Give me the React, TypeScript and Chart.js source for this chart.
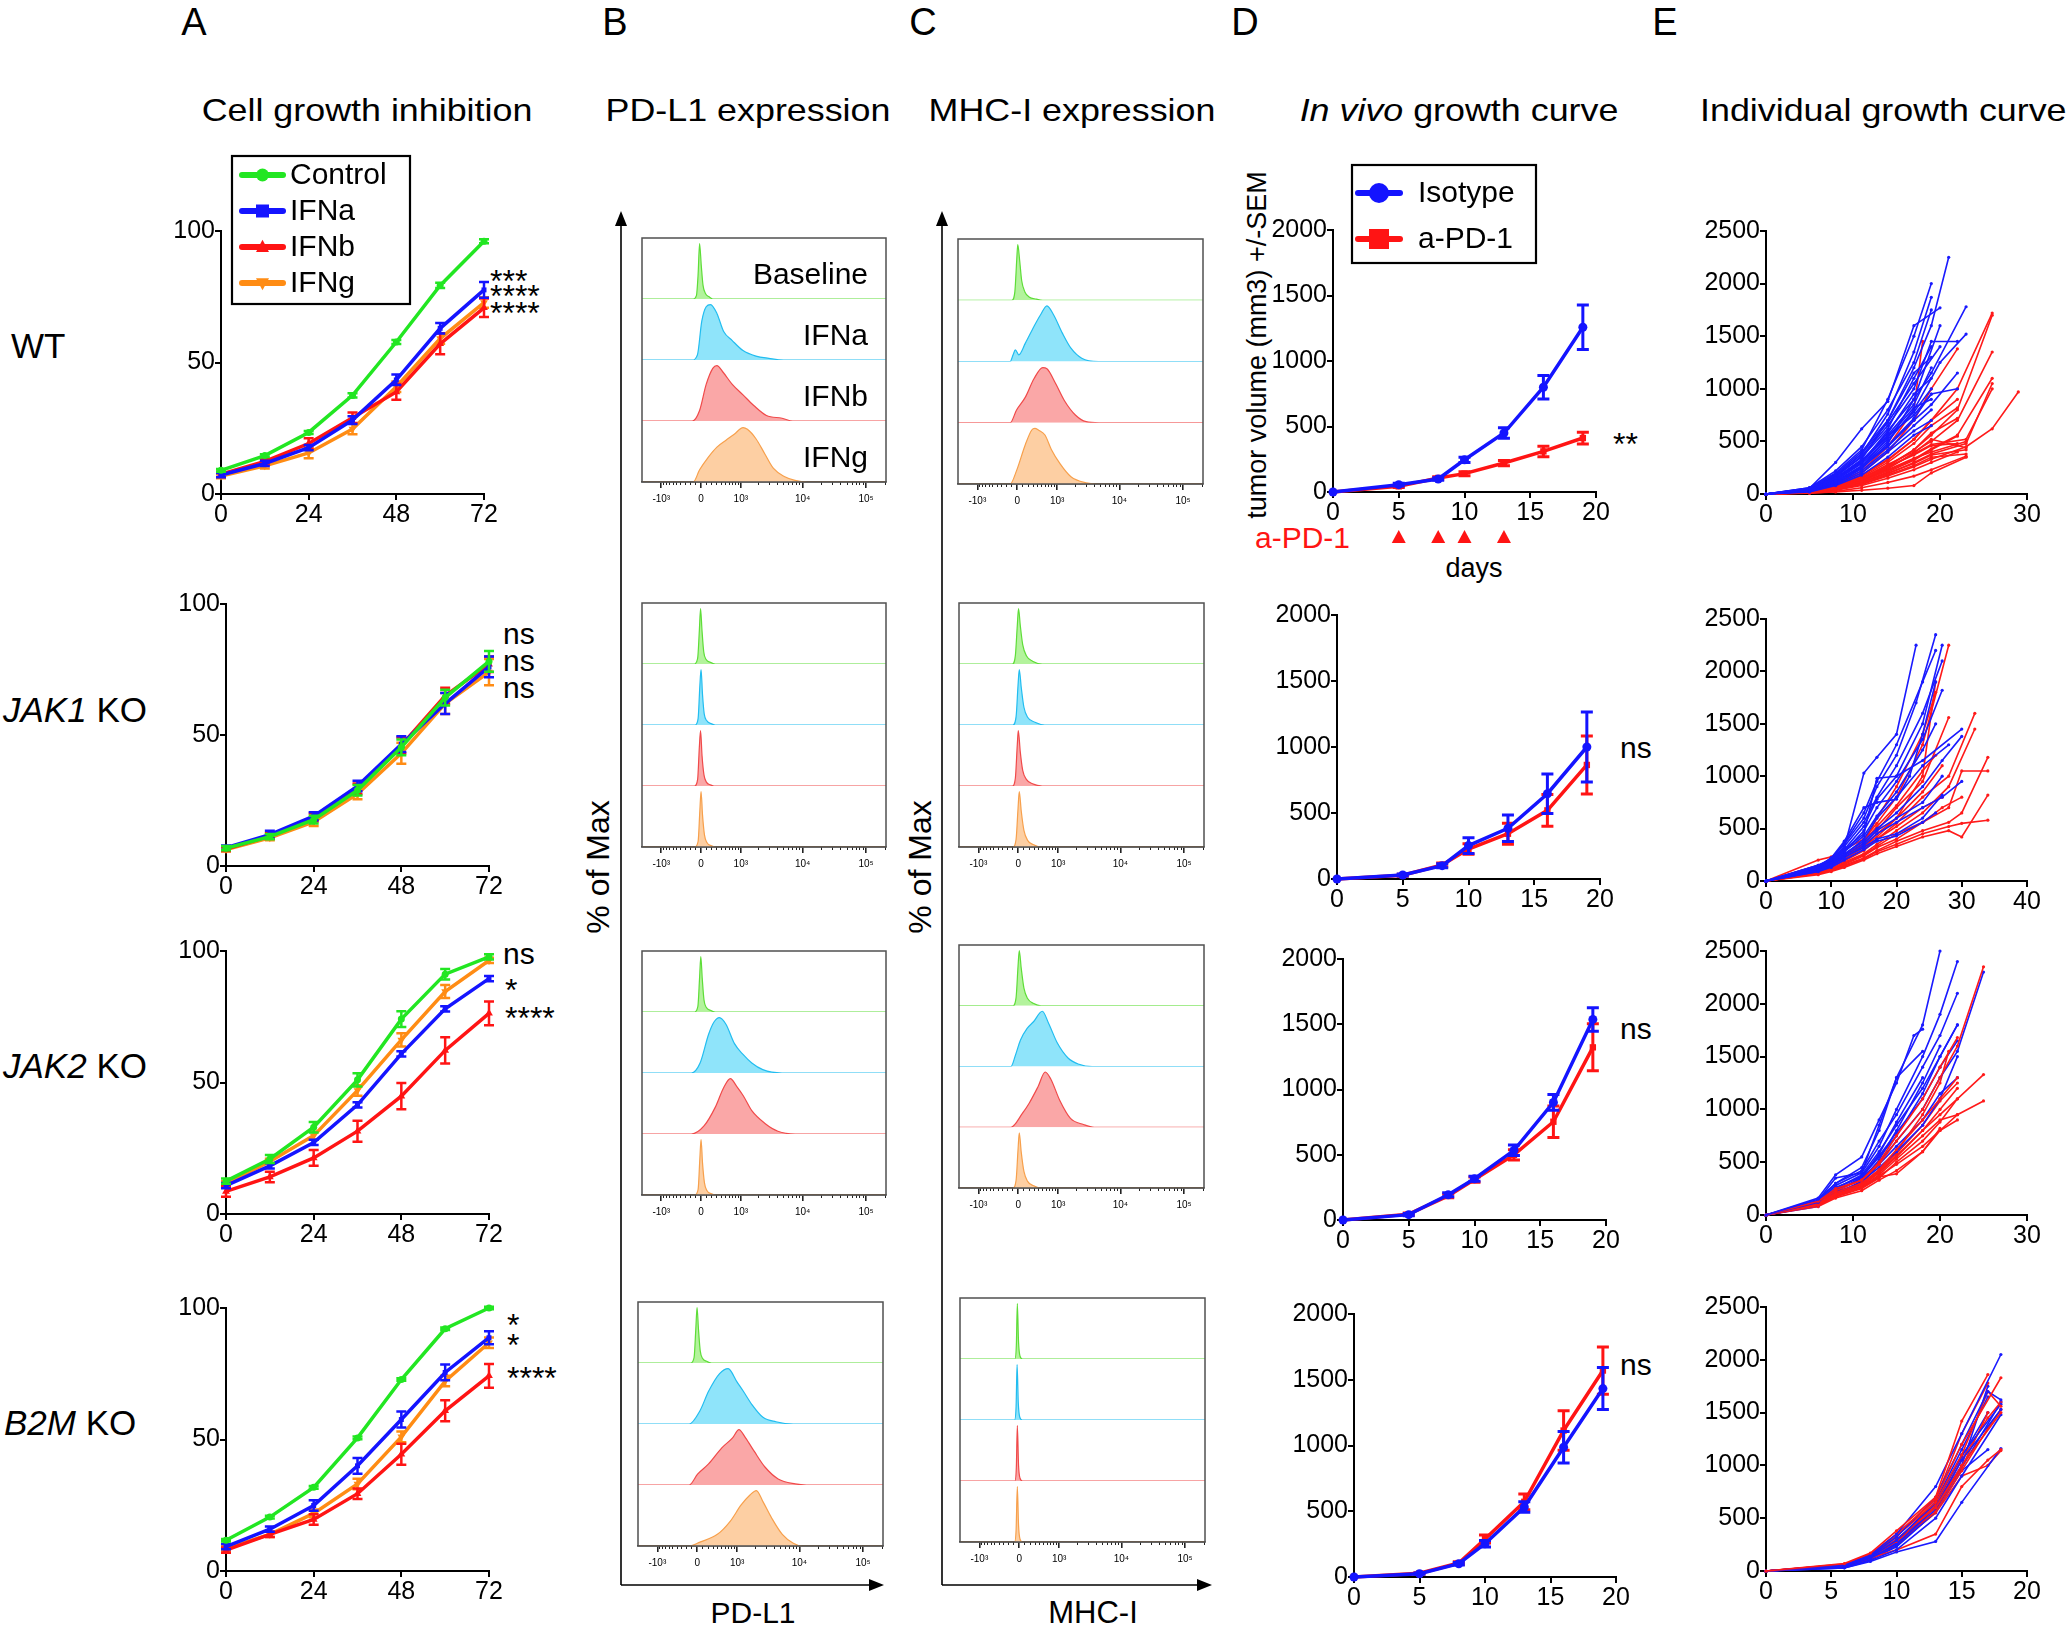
import React, { useEffect, useRef } from 'react';
import { Chart, registerables } from 'chart.js';

Chart.register(...registerables);

const FONT = '"Liberation Sans", Arial, Helvetica, sans-serif';
Chart.defaults.font.family = FONT;
Chart.defaults.color = '#000';

// ================= Panel A : cell growth inhibition =================
const HOURS = [0, 12, 24, 36, 48, 60, 72];
const HOUR_TICKS = [0, 24, 48, 72];
const PCT_TICKS = [0, 50, 100];
const A_LABELS = ['Control', 'IFNa', 'IFNb', 'IFNg'];

const WT_CONTROL = [9.0, 14.6, 23.4, 37.5, 57.8, 79.3, 96.1];
const WT_CONTROL_ERR = [0.5, 0.5, 0.6, 0.8, 0.8, 1.0, 0.8];
const WT_IFNA = [7.2, 11.6, 17.6, 28.1, 43.4, 63.0, 77.6];
const WT_IFNA_ERR = [0.8, 1.0, 1.0, 1.5, 2.0, 2.0, 3.0];
const WT_IFNB = [7.5, 12.4, 19.2, 29.0, 38.8, 57.1, 70.8];
const WT_IFNB_ERR = [1.0, 1.0, 2.0, 2.0, 3.0, 4.0, 3.5];
const WT_IFNG = [6.8, 10.7, 15.6, 24.7, 40.8, 59.1, 72.8];
const WT_IFNG_ERR = [0.8, 1.0, 2.0, 2.0, 2.0, 2.0, 2.0];

const JAK1_CONTROL = [6.8, 11.2, 17.7, 28.9, 45.3, 64.3, 78.1];
const JAK1_CONTROL_ERR = [0.8, 1.0, 1.5, 2.0, 3.0, 3.0, 4.0];
const JAK1_IFNA = [7.0, 12.0, 19.0, 30.5, 46.5, 62.0, 76.0];
const JAK1_IFNA_ERR = [0.8, 1.5, 1.5, 2.0, 3.0, 4.0, 4.0];
const JAK1_IFNB = [6.5, 11.5, 18.5, 29.5, 46.0, 65.0, 77.0];
const JAK1_IFNB_ERR = [0.8, 1.0, 1.5, 2.0, 3.0, 3.0, 3.0];
const JAK1_IFNG = [6.3, 10.8, 16.8, 27.5, 43.0, 62.0, 74.0];
const JAK1_IFNG_ERR = [0.8, 1.0, 1.5, 2.0, 4.0, 4.0, 5.0];

const JAK2_CONTROL = [12.5, 20.9, 33.0, 51.0, 74.1, 91.2, 97.8];
const JAK2_CONTROL_ERR = [1.0, 1.5, 2.0, 2.5, 3.0, 2.0, 1.0];
const JAK2_IFNA = [10.8, 18.3, 27.2, 41.5, 60.9, 78.0, 89.5];
const JAK2_IFNA_ERR = [1.0, 1.0, 1.0, 1.0, 1.0, 1.0, 1.0];
const JAK2_IFNB = [8.6, 14.1, 21.3, 31.5, 44.8, 62.2, 76.3];
const JAK2_IFNB_ERR = [2.0, 2.0, 3.0, 4.0, 5.0, 5.0, 4.5];
const JAK2_IFNG = [11.5, 20.0, 29.8, 47.0, 66.2, 84.6, 96.4];
const JAK2_IFNG_ERR = [1.0, 1.0, 1.5, 2.0, 2.5, 2.5, 1.0];

const B2M_CONTROL = [11.7, 20.5, 31.8, 50.6, 72.8, 92.1, 100.0];
const B2M_CONTROL_ERR = [0.5, 0.5, 0.5, 0.5, 0.5, 0.5, 0.5];
const B2M_IFNA = [9.3, 15.9, 24.9, 40.0, 57.6, 75.5, 88.7];
const B2M_IFNA_ERR = [1.0, 1.0, 2.0, 3.0, 3.0, 3.0, 2.5];
const B2M_IFNB = [7.9, 13.9, 19.6, 29.4, 44.4, 60.9, 74.2];
const B2M_IFNB_ERR = [1.0, 1.0, 2.0, 2.0, 4.0, 4.0, 4.5];
const B2M_IFNG = [8.6, 13.9, 21.9, 33.1, 51.0, 72.2, 86.8];
const B2M_IFNG_ERR = [1.0, 1.0, 1.5, 2.0, 2.0, 2.0, 2.0];

// ================= Panels B / C : flow histograms =================
// x = display channel (0-100 across the plot), y = % of max
const FLOW_LANES = ['Baseline', 'IFNa', 'IFNb', 'IFNg'];
const FLOW_TICK_VALUES = [-1000, 0, 1000, 10000, 100000];
const FLOW_TICK_LABELS = ['-10³', '0', '10³', '10⁴', '10⁵'];

const PDL1_WT = [
  [[0, 0], [21, 0], [22.3, 6], [23, 45], [23.6, 100], [24.3, 60], [25, 25], [26, 10], [27.5, 4], [29, 0], [100, 0]],
  [[0, 0], [20.6, 0], [22.7, 9], [24.5, 70], [26.3, 96], [28.1, 100], [30.7, 84], [33.4, 52], [37, 35], [41.4, 17], [46.7, 7], [52, 3], [58, 0], [100, 0]],
  [[0, 0], [20.6, 0], [23.6, 19], [26.3, 66], [29, 95], [30.7, 100], [33.4, 87], [37, 66], [41.4, 47], [45.8, 28], [51, 10], [57.4, 5], [61.8, 0], [100, 0]],
  [[0, 0], [21, 0], [23.6, 22], [27.2, 45], [30.7, 63], [34.3, 75], [37.8, 86], [41.4, 98], [43.2, 95], [46.7, 78], [50.3, 51], [53.8, 25], [58.3, 10], [62.7, 3], [67.7, 0], [100, 0]],
];
const MHC_WT = [
  [[0, 0], [22, 0], [23.2, 15], [24, 75], [24.4, 100], [25.2, 70], [26, 35], [27.3, 15], [29, 6], [32, 2], [34.6, 0], [100, 0]],
  [[0, 0], [21.3, 0], [22.5, 12], [23.4, 21], [24.8, 12], [27.5, 33], [31, 63], [33.7, 84], [36.3, 100], [39, 84], [42.6, 51], [46.1, 24], [50.5, 6], [57.3, 0], [100, 0]],
  [[0, 0], [21.3, 0], [23.9, 23], [27.5, 46], [31, 79], [34.6, 99], [36.3, 97], [39.9, 70], [43.4, 40], [47.9, 14], [52.3, 2], [57.6, 0], [100, 0]],
  [[0, 0], [21.3, 0], [23.9, 24], [27.5, 71], [30.1, 97], [31.4, 100], [32.8, 97], [35.5, 88], [38.1, 62], [41.7, 36], [46.1, 13], [52.3, 2], [56.7, 0], [100, 0]],
];
const PDL1_JAK1 = [
  [[0, 0], [21.5, 0], [22.8, 10], [23.5, 60], [24, 100], [24.6, 60], [25.3, 22], [26.3, 8], [28, 3], [30, 0], [100, 0]],
  [[0, 0], [21.8, 0], [23, 12], [23.7, 70], [24.2, 100], [24.8, 55], [25.5, 20], [26.5, 8], [28.5, 2], [30, 0], [100, 0]],
  [[0, 0], [21.5, 0], [22.8, 12], [23.5, 70], [24, 100], [24.6, 55], [25.4, 20], [26.4, 7], [28, 2], [29.5, 0], [100, 0]],
  [[0, 0], [21.7, 0], [23, 10], [23.7, 65], [24.2, 100], [24.8, 58], [25.6, 22], [26.6, 8], [28.5, 2], [30, 0], [100, 0]],
];
const MHC_JAK1 = [
  [[0, 0], [21.8, 0], [23, 15], [23.8, 70], [24.3, 100], [25, 70], [26, 35], [27.5, 15], [30, 5], [34, 0], [100, 0]],
  [[0, 0], [22, 0], [23.3, 15], [24.1, 72], [24.6, 100], [25.4, 68], [26.5, 32], [28, 14], [31, 5], [35, 0], [100, 0]],
  [[0, 0], [21.8, 0], [23, 14], [23.8, 75], [24.2, 100], [25, 62], [26, 28], [27.5, 12], [30, 4], [34, 0], [100, 0]],
  [[0, 0], [22, 0], [23.3, 14], [24.1, 70], [24.6, 100], [25.4, 65], [26.5, 30], [28, 12], [30.5, 4], [33, 0], [100, 0]],
];
const PDL1_JAK2 = [
  [[0, 0], [21.6, 0], [22.9, 10], [23.6, 62], [24.1, 100], [24.7, 60], [25.4, 22], [26.4, 8], [28, 3], [30, 0], [100, 0]],
  [[0, 0], [20.2, 0], [23.8, 18], [27.3, 70], [29.5, 92], [31.7, 100], [34.4, 88], [37.9, 53], [41.5, 33], [45, 18], [49.5, 6], [57.4, 0], [100, 0]],
  [[0, 0], [20.2, 0], [25.5, 15], [30, 48], [33.5, 84], [36.2, 100], [38.8, 86], [41.5, 69], [45, 42], [50.4, 19], [55.7, 5], [62.8, 0], [100, 0]],
  [[0, 0], [21.7, 0], [23, 10], [23.7, 65], [24.2, 100], [24.8, 58], [25.6, 22], [26.6, 8], [28.5, 2], [30, 0], [100, 0]],
];
const MHC_JAK2 = [
  [[0, 0], [22, 0], [23.3, 15], [24.1, 72], [24.6, 100], [25.4, 68], [26.5, 32], [28, 13], [30.5, 4], [33.5, 0], [100, 0]],
  [[0, 0], [21.2, 0], [23, 20], [25.1, 48], [27.8, 69], [30.4, 81], [34, 100], [36.6, 78], [40.2, 42], [44.6, 15], [49, 4], [54.3, 0], [100, 0]],
  [[0, 0], [21.2, 0], [26, 26], [28.7, 44], [32.2, 73], [35.2, 100], [37.5, 87], [41.1, 49], [45.5, 16], [50.8, 5], [55.2, 0], [100, 0]],
  [[0, 0], [22, 0], [23.3, 14], [24.1, 70], [24.6, 100], [25.4, 65], [26.5, 30], [28, 12], [30.5, 4], [33, 0], [100, 0]],
];
const PDL1_B2M = [
  [[0, 0], [21.6, 0], [22.9, 10], [23.6, 62], [24.1, 100], [24.7, 60], [25.4, 22], [26.4, 8], [28, 3], [30, 0], [100, 0]],
  [[0, 0], [20.9, 0], [25.3, 24], [28.8, 59], [33.3, 91], [36.8, 100], [40.4, 76], [43, 59], [46.5, 35], [51, 12], [56.3, 4], [63.4, 0], [100, 0]],
  [[0, 0], [20.9, 0], [24.4, 20], [28.8, 38], [34.2, 67], [38.6, 85], [41.2, 100], [43.9, 85], [47.4, 61], [51.9, 32], [57.2, 11], [64.2, 2], [68.7, 0], [100, 0]],
  [[0, 0], [20.9, 0], [25.3, 7], [32.4, 21], [37.7, 45], [42.1, 74], [45.7, 92], [48.3, 100], [51, 80], [54.5, 51], [58.9, 21], [63.4, 5], [66.9, 0], [100, 0]],
];
const MHC_B2M = [
  [[0, 0], [22.4, 0], [23, 25], [23.4, 100], [23.9, 30], [24.5, 5], [25.5, 0], [100, 0]],
  [[0, 0], [22.3, 0], [22.9, 25], [23.3, 100], [23.8, 30], [24.4, 5], [25.4, 0], [100, 0]],
  [[0, 0], [22.4, 0], [23, 25], [23.4, 100], [23.9, 28], [24.5, 5], [25.5, 0], [100, 0]],
  [[0, 0], [22.3, 0], [22.9, 22], [23.4, 100], [23.9, 30], [24.5, 5], [25.5, 0], [100, 0]],
];

// ================= Panel D : in vivo growth (mean +/- SEM) =================
const DAYS = [0, 5, 8, 10, 13, 16, 19];
const DAY_TICKS = [0, 5, 10, 15, 20];
const VOL_TICKS = [0, 500, 1000, 1500, 2000];
const D_LABELS = ['Isotype', 'a-PD-1'];
const DOSE_DAYS = [5, 8, 10, 13];

const WT_ISO = [0, 56, 99, 246, 450, 800, 1258];
const WT_ISO_ERR = [0, 10, 10, 20, 40, 90, 170];
const WT_PD1 = [0, 43, 107, 140, 221, 310, 412];
const WT_PD1_ERR = [0, 8, 10, 15, 20, 40, 45];
const JAK1_ISO = [0, 30, 101, 253, 384, 646, 1000];
const JAK1_ISO_ERR = [0, 8, 15, 60, 100, 150, 265];
const JAK1_PD1 = [0, 28, 107, 227, 343, 520, 864];
const JAK1_PD1_ERR = [0, 8, 15, 40, 80, 120, 220];
const JAK2_ISO = [0, 41, 193, 316, 534, 901, 1537];
const JAK2_ISO_ERR = [0, 8, 15, 20, 40, 60, 90];
const JAK2_PD1 = [0, 45, 185, 310, 499, 753, 1323];
const JAK2_PD1_ERR = [0, 8, 15, 20, 40, 120, 180];
const B2M_ISO = [0, 25, 101, 253, 532, 987, 1433];
const B2M_ISO_ERR = [0, 5, 10, 25, 40, 120, 160];
const B2M_PD1 = [0, 28, 106, 289, 572, 1114, 1570];
const B2M_PD1_ERR = [0, 5, 10, 30, 60, 150, 180];

// ================= Panel E : individual growth curves [day, mm3] =================
const E_VOL_TICKS = [0, 500, 1000, 1500, 2000, 2500];
const E1_ISO = [
  [[0, 0], [5, 60], [8, 200], [11, 420], [14, 900], [17, 1500], [19, 2000]],
  [[0, 0], [5, 50], [8, 180], [11, 380], [14, 760], [17, 1350], [19, 1870]],
  [[0, 0], [5, 40], [8, 150], [11, 330], [14, 700], [17, 1200], [19, 1600], [21, 2250]],
  [[0, 0], [5, 55], [8, 300], [11, 620], [14, 880], [17, 1600], [20, 1770]],
  [[0, 0], [5, 45], [8, 160], [11, 360], [14, 650], [17, 1000], [19, 1450], [22, 1450]],
  [[0, 0], [5, 35], [8, 130], [11, 300], [14, 600], [17, 900], [19, 1150], [23, 1780]],
  [[0, 0], [5, 30], [8, 120], [11, 260], [14, 500], [17, 800], [20, 1250], [23, 1520]],
  [[0, 0], [5, 40], [8, 140], [11, 300], [14, 550], [17, 750], [19, 950], [22, 1000]],
  [[0, 0], [5, 35], [8, 110], [11, 250], [14, 450], [17, 700], [19, 850], [22, 1150]],
  [[0, 0], [5, 50], [8, 170], [11, 350], [14, 620], [17, 1100], [19, 1400]],
  [[0, 0], [5, 30], [8, 100], [11, 220], [14, 420], [17, 650], [19, 800]],
  [[0, 0], [5, 45], [8, 150], [11, 320], [14, 560], [17, 850], [19, 1200]],
  [[0, 0], [5, 25], [8, 90], [11, 200], [14, 400], [17, 600], [19, 700]],
  [[0, 0], [5, 40], [8, 130], [11, 290], [14, 520], [17, 780], [19, 1000]],
  [[0, 0], [5, 30], [8, 100], [11, 240], [14, 480], [17, 900], [20, 1600]],
  [[0, 0], [5, 50], [8, 190], [11, 400], [14, 700], [17, 1150], [19, 1300]],
  [[0, 0], [5, 20], [8, 80], [11, 180], [14, 350], [17, 560], [19, 650]],
  [[0, 0], [5, 35], [8, 120], [11, 270], [14, 460], [17, 720], [19, 950]],
  [[0, 0], [5, 60], [8, 220], [11, 450], [14, 800], [17, 1250], [19, 1750]],
  [[0, 0], [5, 40], [8, 150], [11, 310], [14, 580], [17, 950], [19, 1100]],
  [[0, 0], [5, 45], [8, 170], [11, 380], [14, 680], [17, 1050], [20, 1400]],
  [[0, 0], [5, 30], [8, 110], [11, 260], [14, 540], [17, 820], [19, 900]],
];
const E1_PD1 = [
  [[0, 0], [5, 30], [8, 90], [11, 200], [14, 400], [17, 700], [19, 1000], [22, 1380]],
  [[0, 0], [5, 25], [8, 80], [11, 180], [14, 330], [17, 520], [19, 700], [22, 1000], [26, 1720]],
  [[0, 0], [5, 20], [8, 60], [11, 140], [14, 260], [17, 420], [19, 560], [22, 800], [26, 1700]],
  [[0, 0], [5, 20], [8, 70], [11, 150], [14, 280], [17, 400], [19, 500], [22, 700], [26, 1350]],
  [[0, 0], [5, 15], [8, 50], [11, 120], [14, 220], [17, 330], [19, 430], [22, 560], [26, 1100]],
  [[0, 0], [5, 15], [8, 45], [11, 100], [14, 190], [17, 300], [19, 380], [23, 480], [26, 1050]],
  [[0, 0], [5, 12], [8, 40], [11, 90], [14, 170], [17, 260], [19, 330], [23, 450], [26, 620], [29, 970]],
  [[0, 0], [5, 18], [8, 55], [11, 130], [14, 250], [17, 380], [19, 470], [23, 520], [26, 1000]],
  [[0, 0], [5, 10], [8, 20], [11, 35], [14, 55], [17, 80], [19, 200], [23, 350]],
  [[0, 0], [5, 15], [8, 45], [11, 110], [14, 200], [17, 290], [19, 370], [23, 420]],
  [[0, 0], [5, 20], [8, 60], [11, 130], [14, 230], [17, 340], [19, 400], [23, 500]],
  [[0, 0], [5, 25], [8, 90], [11, 220], [14, 450], [17, 800], [18, 1450]],
  [[0, 0], [5, 20], [8, 70], [11, 160], [14, 300], [17, 480], [19, 650], [22, 820]],
  [[0, 0], [5, 15], [8, 50], [11, 110], [14, 210], [17, 320], [19, 420], [22, 550]],
  [[0, 0], [5, 10], [8, 35], [11, 80], [14, 150], [17, 230], [19, 300], [22, 400]],
  [[0, 0], [5, 18], [8, 60], [11, 140], [14, 270], [17, 420], [19, 580], [22, 720]],
  [[0, 0], [5, 22], [8, 75], [11, 170], [14, 320], [17, 520], [19, 700], [22, 900]],
  [[0, 0], [5, 12], [8, 40], [11, 95], [14, 180], [17, 270], [19, 350], [23, 380]],
  [[0, 0], [5, 20], [8, 65], [11, 150], [14, 260], [17, 370], [19, 460], [22, 480]],
  [[0, 0], [5, 8], [8, 25], [11, 60], [14, 110], [17, 170], [19, 230], [23, 360]],
  [[0, 0], [5, 18], [8, 55], [11, 120], [14, 240], [17, 390], [19, 520], [23, 440]],
];
const E2_ISO = [
  [[0, 0], [8, 150], [10, 200], [12, 320], [15, 1030], [17, 1180], [20, 1400], [23, 2250]],
  [[0, 0], [8, 130], [10, 220], [12, 350], [15, 600], [17, 900], [20, 1200], [23, 1700], [26, 2350]],
  [[0, 0], [8, 120], [10, 180], [12, 300], [15, 520], [17, 780], [20, 1000], [24, 1500], [27, 2250]],
  [[0, 0], [8, 140], [10, 200], [12, 330], [15, 560], [17, 800], [20, 1100], [24, 1600], [27, 2100]],
  [[0, 0], [8, 110], [10, 170], [12, 280], [15, 480], [17, 700], [20, 950], [24, 1350], [27, 1820]],
  [[0, 0], [8, 130], [10, 190], [12, 300], [15, 450], [17, 980], [20, 1000], [24, 1150], [30, 1450]],
  [[0, 0], [8, 100], [10, 150], [12, 250], [15, 400], [17, 600], [20, 800], [24, 1100], [28, 1300]],
  [[0, 0], [8, 120], [10, 170], [12, 260], [15, 380], [17, 500], [20, 650], [24, 900], [27, 1150], [30, 1380]],
  [[0, 0], [8, 90], [10, 140], [12, 220], [15, 340], [17, 450], [20, 560], [24, 700], [27, 800], [30, 950]],
  [[0, 0], [8, 150], [10, 210], [12, 360], [15, 650], [17, 950], [20, 1300], [24, 1900], [26, 2200]],
  [[0, 0], [8, 110], [10, 160], [12, 240], [15, 360], [17, 480], [20, 600], [24, 750], [27, 1000]],
  [[0, 0], [8, 100], [10, 150], [12, 230], [15, 320], [17, 400], [20, 450], [24, 600], [27, 820]],
  [[0, 0], [8, 130], [10, 180], [12, 280], [15, 430], [17, 620], [20, 850], [24, 1250], [26, 1500]],
  [[0, 0], [8, 90], [10, 130], [12, 200], [15, 300], [17, 380], [20, 430], [24, 560], [26, 650]],
  [[0, 0], [8, 140], [10, 220], [12, 380], [15, 700], [17, 750], [20, 780], [22, 1000], [24, 1400], [26, 1900]],
];
const E2_PD1 = [
  [[0, 0], [8, 200], [10, 230], [12, 300], [15, 400], [17, 550], [20, 800], [24, 1300], [28, 2250]],
  [[0, 0], [8, 150], [10, 180], [12, 250], [15, 330], [17, 420], [20, 600], [24, 1000], [26, 1900]],
  [[0, 0], [8, 100], [10, 140], [12, 200], [15, 300], [17, 400], [20, 550], [24, 800], [28, 1000], [32, 1600]],
  [[0, 0], [8, 90], [10, 120], [12, 180], [15, 260], [17, 350], [20, 480], [24, 650], [28, 900], [32, 1450]],
  [[0, 0], [8, 80], [10, 110], [12, 170], [15, 250], [17, 330], [20, 450], [24, 560], [28, 700], [30, 1050], [34, 1050]],
  [[0, 0], [8, 70], [10, 100], [12, 150], [15, 220], [17, 290], [20, 380], [24, 480], [28, 560], [30, 650], [34, 1180]],
  [[0, 0], [8, 60], [10, 90], [12, 130], [15, 200], [17, 260], [20, 330], [24, 420], [28, 480], [30, 420], [34, 820]],
  [[0, 0], [8, 70], [10, 95], [12, 140], [15, 210], [17, 280], [20, 350], [24, 450], [28, 520], [30, 550], [34, 580]],
  [[0, 0], [8, 110], [10, 150], [12, 220], [15, 350], [17, 480], [20, 700], [24, 950], [28, 1560]],
  [[0, 0], [8, 130], [10, 170], [12, 250], [15, 380], [17, 520], [20, 720], [24, 1050], [26, 1200]],
  [[0, 0], [8, 90], [10, 130], [12, 190], [15, 290], [17, 400], [20, 520], [24, 700], [27, 800]],
  [[0, 0], [8, 120], [10, 160], [12, 240], [15, 360], [17, 600], [20, 900], [24, 1400], [26, 1800]],
  [[0, 0], [8, 80], [10, 110], [12, 160], [15, 240], [17, 320], [20, 400], [24, 560], [27, 700], [30, 800]],
  [[0, 0], [8, 100], [10, 140], [12, 210], [15, 320], [17, 450], [20, 600], [24, 850], [27, 1100]],
];
const E3_ISO = [
  [[0, 0], [6, 150], [8, 300], [11, 450], [13, 800], [15, 1300], [18, 1800], [20, 2500]],
  [[0, 0], [6, 120], [8, 280], [11, 400], [13, 650], [15, 1000], [18, 1500], [20, 1900], [22, 2400]],
  [[0, 0], [6, 130], [8, 300], [11, 420], [13, 700], [15, 950], [18, 1400], [20, 1700], [22, 2100]],
  [[0, 0], [6, 160], [8, 380], [11, 550], [13, 900], [15, 1250], [17, 1700], [18, 1760]],
  [[0, 0], [6, 140], [8, 350], [11, 400], [13, 850], [15, 1300], [18, 1550]],
  [[0, 0], [6, 100], [8, 250], [11, 380], [13, 600], [15, 850], [18, 1200], [20, 1500], [22, 1800]],
  [[0, 0], [6, 90], [8, 220], [11, 350], [13, 500], [15, 700], [18, 1000], [20, 1300], [22, 1550], [25, 2300]],
  [[0, 0], [6, 110], [8, 260], [11, 360], [13, 550], [15, 750], [18, 1150], [20, 1500], [22, 1800]],
  [[0, 0], [6, 80], [8, 200], [11, 320], [13, 450], [15, 600], [18, 850], [20, 1100], [22, 1500]],
  [[0, 0], [6, 120], [8, 240], [11, 330], [13, 520], [15, 800], [18, 1250], [20, 1600]],
  [[0, 0], [6, 100], [8, 210], [11, 300], [13, 480], [15, 650], [18, 900], [20, 1150], [22, 1300]],
  [[0, 0], [6, 90], [8, 230], [11, 350], [13, 580], [15, 880], [18, 1300]],
  [[0, 0], [6, 110], [8, 250], [11, 370], [13, 560], [15, 780], [18, 1100], [20, 1400], [22, 1650]],
];
const E3_PD1 = [
  [[0, 0], [6, 130], [8, 250], [11, 330], [13, 480], [15, 700], [18, 1000], [20, 1300], [22, 1600], [25, 2350]],
  [[0, 0], [6, 100], [8, 200], [11, 280], [13, 400], [15, 550], [18, 800], [20, 950], [22, 1100], [25, 1330]],
  [[0, 0], [6, 90], [8, 180], [11, 260], [13, 370], [15, 480], [18, 650], [20, 800], [22, 950], [25, 1080]],
  [[0, 0], [6, 120], [8, 230], [11, 330], [13, 500], [15, 750], [18, 1100], [20, 1400], [22, 1680]],
  [[0, 0], [6, 110], [8, 210], [11, 300], [13, 430], [15, 620], [18, 900], [20, 1100], [22, 1300]],
  [[0, 0], [6, 100], [8, 190], [11, 280], [13, 400], [15, 560], [18, 800], [20, 1000], [22, 1200]],
  [[0, 0], [6, 90], [8, 170], [11, 250], [13, 350], [15, 500], [18, 700], [20, 880], [22, 1100]],
  [[0, 0], [6, 80], [8, 160], [11, 230], [13, 330], [15, 420], [18, 600], [20, 800], [22, 900]],
  [[0, 0], [6, 120], [8, 220], [11, 300], [13, 420], [15, 600], [18, 950], [20, 1250], [21, 1550]],
  [[0, 0], [6, 100], [8, 200], [11, 270], [13, 380], [15, 530], [18, 750], [20, 900], [22, 950]],
  [[0, 0], [6, 110], [8, 200], [11, 290], [13, 410], [15, 580], [18, 850], [20, 1080], [22, 1250]],
  [[0, 0], [6, 90], [8, 180], [11, 260], [13, 360], [15, 390], [18, 600], [20, 820]],
];
const E4_ISO = [
  [[0, 0], [6, 60], [8, 150], [10, 350], [13, 800], [15, 1300], [18, 2050]],
  [[0, 0], [6, 50], [8, 140], [10, 320], [13, 700], [15, 1200], [17, 1700], [18, 1620]],
  [[0, 0], [6, 55], [8, 130], [10, 290], [13, 650], [15, 1100], [18, 1580]],
  [[0, 0], [6, 40], [8, 120], [10, 250], [13, 600], [15, 1050], [18, 1530]],
  [[0, 0], [6, 30], [8, 100], [10, 200], [13, 500], [15, 900], [18, 1480]],
  [[0, 0], [6, 35], [8, 110], [10, 230], [13, 560], [15, 950], [17, 1150]],
  [[0, 0], [6, 30], [8, 90], [10, 180], [13, 280], [15, 650], [18, 1160]],
  [[0, 0], [6, 45], [8, 120], [10, 260], [13, 620], [15, 1000], [17, 1750]],
  [[0, 0], [6, 50], [8, 130], [10, 280], [13, 660], [15, 1150], [17, 1650]],
  [[0, 0], [6, 40], [8, 110], [10, 240], [13, 580], [15, 980], [18, 1600]],
  [[0, 0], [6, 45], [8, 125], [10, 270], [13, 640], [15, 1080], [17, 1500]],
];
const E4_PD1 = [
  [[0, 0], [6, 70], [8, 170], [10, 380], [13, 700], [15, 1420], [17, 1860]],
  [[0, 0], [6, 65], [8, 160], [10, 350], [13, 680], [15, 1200], [18, 1830]],
  [[0, 0], [6, 60], [8, 150], [10, 330], [13, 650], [15, 1100], [17, 1700], [18, 1560]],
  [[0, 0], [6, 55], [8, 140], [10, 300], [13, 600], [15, 1000], [18, 1500]],
  [[0, 0], [6, 50], [8, 130], [10, 280], [13, 560], [15, 950], [17, 1350], [18, 1530]],
  [[0, 0], [6, 45], [8, 120], [10, 200], [13, 350], [15, 800], [17, 1050], [18, 1150]],
  [[0, 0], [6, 60], [8, 160], [10, 330], [13, 680], [15, 1300], [17, 1780]],
  [[0, 0], [6, 55], [8, 140], [10, 290], [13, 620], [15, 1050], [17, 1450], [18, 1600]],
  [[0, 0], [6, 50], [8, 135], [10, 300], [13, 600], [15, 980], [17, 1500]],
  [[0, 0], [6, 40], [8, 110], [10, 250], [13, 550], [15, 900], [17, 1000], [18, 1140]],
];

// ================= styles =================
const A_COLORS = ['#22e622', '#1414ff', '#ff1414', '#ff8c14'];
const A_MARKERS = ['circle', 'rect', 'triangle', 'triangle'];
const A_ROT = [0, 0, 0, 180];
const A_RADII = [3.5, 3.5, 4.5, 4.5];
const D_COLORS = ['#1414ff', '#ff1414'];
const D_MARKERS = ['circle', 'rect'];
const E_BLUE = '#1a1aff';
const E_RED = '#ff1a1a';
const HIST_LINE = ['#5edd38', '#22bdf0', '#f04a4a', '#f7a04c'];
const HIST_FILL = ['#b3f39c', '#8fe4fa', '#faa7a7', '#fdcfa3'];

// axis geometry helper for the biexponential flow axis (display channel of a value)
const flowChannel = (v: number) => 24.2 + (26 * Math.asinh(v / 500)) / Math.LN10;
const FLOW_MINOR_VALUES: number[] = (() => {
  const out: number[] = [];
  for (let k = 1; k <= 9; k++) out.push(-100 * k, 100 * k);
  for (let k = 2; k <= 9; k++) out.push(1000 * k, 10000 * k);
  out.push(200000);
  return out;
})();

// ================= plugins =================
function drawMarker(ctx: CanvasRenderingContext2D, style: string, x: number, y: number, r: number, rot = 0) {
  ctx.beginPath();
  if (style === 'rect') ctx.rect(x - r, y - r, 2 * r, 2 * r);
  else if (style === 'triangle') {
    const s = rot === 180 ? -1 : 1;
    ctx.moveTo(x, y - s * r * 1.1);
    ctx.lineTo(x + r, y + s * r * 0.75);
    ctx.lineTo(x - r, y + s * r * 0.75);
    ctx.closePath();
  } else ctx.arc(x, y, r, 0, Math.PI * 2);
  ctx.fill();
}

const errorBarsPlugin = {
  id: 'errorBars',
  afterDatasetDraw(chart: any, args: any) {
    const ds = chart.data.datasets[args.index];
    if (!ds || !ds.errors) return;
    const meta = args.meta;
    const yScale = chart.scales[meta.yAxisID];
    const ctx = chart.ctx;
    ctx.save();
    ctx.strokeStyle = ds.borderColor;
    ctx.lineWidth = ds.errWidth || 2.5;
    meta.data.forEach((pt: any, i: number) => {
      const e = ds.errors[i];
      if (!e) return;
      const v = ds.data[i].y;
      const y1 = yScale.getPixelForValue(v + e);
      const y2 = yScale.getPixelForValue(v - e);
      const c = ds.errCap || 5;
      ctx.beginPath();
      ctx.moveTo(pt.x, y1); ctx.lineTo(pt.x, y2);
      ctx.moveTo(pt.x - c, y1); ctx.lineTo(pt.x + c, y1);
      ctx.moveTo(pt.x - c, y2); ctx.lineTo(pt.x + c, y2);
      ctx.stroke();
    });
    ctx.restore();
  },
};

const boxLegendPlugin = {
  id: 'boxLegend',
  afterDraw(chart: any, _args: any, o: any) {
    if (!o || !o.show) return;
    const a = chart.chartArea;
    const ctx = chart.ctx;
    const x0 = a.left + o.x;
    const y0 = a.top + o.y;
    ctx.save();
    ctx.lineWidth = 2.2;
    ctx.strokeStyle = '#000';
    ctx.strokeRect(x0, y0, o.w, o.h);
    ctx.font = `${o.fontSize}px ${FONT}`;
    ctx.textBaseline = 'middle';
    ctx.textAlign = 'left';
    chart.data.datasets.forEach((ds: any, i: number) => {
      const cy = y0 + o.firstRow + i * o.rowH;
      ctx.strokeStyle = ds.borderColor;
      ctx.fillStyle = ds.borderColor;
      ctx.lineWidth = o.lineWidth;
      ctx.lineCap = 'round';
      ctx.beginPath();
      ctx.moveTo(x0 + o.lineX, cy);
      ctx.lineTo(x0 + o.lineX + o.lineLen, cy);
      ctx.stroke();
      drawMarker(ctx, ds.pointStyle, x0 + o.lineX + o.lineLen / 2, cy, o.markerR, ds.pointRotation || 0);
      ctx.fillStyle = '#000';
      ctx.fillText(ds.label, x0 + o.textX, cy + 1);
    });
    ctx.restore();
  },
};

const doseMarksPlugin = {
  id: 'doseMarks',
  afterDraw(chart: any, _args: any, o: any) {
    if (!o || !o.days) return;
    const xs = chart.scales.x;
    const ctx = chart.ctx;
    const cy = chart.chartArea.bottom + o.offset;
    ctx.save();
    ctx.fillStyle = o.color;
    o.days.forEach((d: number) => {
      const x = xs.getPixelForValue(d);
      ctx.beginPath();
      ctx.moveTo(x, cy - 7);
      ctx.lineTo(x + 7, cy + 6);
      ctx.lineTo(x - 7, cy + 6);
      ctx.closePath();
      ctx.fill();
    });
    ctx.restore();
  },
};

const laneLabelsPlugin = {
  id: 'laneLabels',
  afterDatasetsDraw(chart: any, _args: any, o: any) {
    if (!o || !o.labels) return;
    const ctx = chart.ctx;
    ctx.save();
    ctx.font = `${o.fontSize}px ${FONT}`;
    ctx.fillStyle = '#000';
    ctx.textAlign = 'right';
    ctx.textBaseline = 'middle';
    chart.data.datasets.forEach((ds: any, i: number) => {
      const ys = chart.scales[ds.yAxisID];
      ctx.fillText(o.labels[i], chart.chartArea.right - o.inset, ys.getPixelForValue(o.value));
    });
    ctx.restore();
  },
};

const framePlugin = {
  id: 'frame',
  afterDraw(chart: any, _args: any, o: any) {
    if (!o || !o.show) return;
    const a = chart.chartArea;
    const ctx = chart.ctx;
    ctx.save();
    ctx.strokeStyle = '#505050';
    ctx.lineWidth = 1.5;
    ctx.strokeRect(a.left, a.top, a.right - a.left, a.bottom - a.top);
    ctx.restore();
  },
};

Chart.register(errorBarsPlugin, boxLegendPlugin, doseMarksPlugin, laneLabelsPlugin, framePlugin);

// ================= chart builders =================
type Pad = { l: number; t: number; r: number; b: number };
type Area = { left: number; top: number; right: number; bottom: number };

const BASE_OPTIONS = { responsive: false, animation: false, devicePixelRatio: 1, events: [] as string[] };

function cartesianAxis(ticks: number[], min: number, max: number, size: number) {
  return {
    type: 'linear',
    min,
    max,
    afterBuildTicks: (s: any) => { s.ticks = ticks.map((v) => ({ value: v })); },
    grid: { display: true, drawOnChartArea: false, drawTicks: true, tickLength: 6, color: '#000', lineWidth: 2 },
    border: { display: true, color: '#000', width: 2 },
    ticks: { autoSkip: false, maxRotation: 0, color: '#000', font: { family: FONT, size }, padding: 0, callback: (v: any) => String(v) },
  };
}

function lineConfig(o: { datasets: any[]; x: [number, number, number[]]; y: [number, number, number[]]; pad: Pad; plugins?: any; fontSize?: number }) {
  const fs = o.fontSize || 25;
  return {
    type: 'line',
    data: { datasets: o.datasets },
    options: {
      ...BASE_OPTIONS,
      layout: { padding: { left: 0, top: o.pad.t, right: o.pad.r, bottom: 0 } },
      scales: {
        x: { ...cartesianAxis(o.x[2], o.x[0], o.x[1], fs), position: 'bottom', afterFit: (s: any) => { s.height = o.pad.b; } },
        y: { ...cartesianAxis(o.y[2], o.y[0], o.y[1], fs), position: 'left', afterFit: (s: any) => { s.width = o.pad.l; } },
      },
      plugins: { legend: { display: false }, tooltip: { enabled: false }, ...(o.plugins || {}) },
    },
  };
}

function growthConfig(sets: number[][][], pad: Pad, legend?: any) {
  const datasets = sets.map(([vals, errs], i) => ({
    label: A_LABELS[i],
    data: HOURS.map((h, j) => ({ x: h, y: vals[j] })),
    errors: errs,
    errWidth: 2.5,
    errCap: 5,
    borderColor: A_COLORS[i],
    backgroundColor: A_COLORS[i],
    borderWidth: 3.5,
    pointStyle: A_MARKERS[i],
    pointRotation: A_ROT[i],
    pointRadius: A_RADII[i],
    pointBackgroundColor: A_COLORS[i],
    pointBorderColor: A_COLORS[i],
    pointBorderWidth: 0,
    tension: 0,
    clip: false,
  }));
  return lineConfig({ datasets, x: [0, 72, HOUR_TICKS], y: [0, 100, PCT_TICKS], pad, plugins: legend ? { boxLegend: legend } : {} });
}

function tumorConfig(iso: number[], isoErr: number[], pd1: number[], pd1Err: number[], pad: Pad, extra?: any) {
  const datasets = [
    [iso, isoErr],
    [pd1, pd1Err],
  ].map(([vals, errs], i) => ({
    label: D_LABELS[i],
    data: DAYS.map((d, j) => ({ x: d, y: vals[j] })),
    errors: errs,
    errWidth: 3,
    errCap: 6,
    borderColor: D_COLORS[i],
    backgroundColor: D_COLORS[i],
    borderWidth: 3.5,
    pointStyle: D_MARKERS[i],
    pointRadius: 4.5,
    pointBackgroundColor: D_COLORS[i],
    pointBorderColor: D_COLORS[i],
    pointBorderWidth: 0,
    tension: 0,
    clip: false,
  }));
  return lineConfig({ datasets, x: [0, 20, DAY_TICKS], y: [0, 2000, VOL_TICKS], pad, plugins: extra || {} });
}

function curveDataset(curve: number[][], color: string) {
  return {
    data: curve.map(([x, y]) => ({ x, y })),
    borderColor: color,
    backgroundColor: color,
    borderWidth: 1.6,
    pointRadius: 1.6,
    pointBorderWidth: 0,
    pointBackgroundColor: color,
    tension: 0,
    clip: false,
  };
}

function spaghettiConfig(first: number[][][], firstColor: string, second: number[][][], secondColor: string, xMax: number, xTicks: number[], pad: Pad, interleave = false) {
  let datasets: any[];
  if (interleave) {
    datasets = [];
    const n = Math.max(first.length, second.length);
    for (let i = 0; i < n; i++) {
      if (first[i]) datasets.push(curveDataset(first[i], firstColor));
      if (second[i]) datasets.push(curveDataset(second[i], secondColor));
    }
  } else {
    datasets = [...first.map((c) => curveDataset(c, firstColor)), ...second.map((c) => curveDataset(c, secondColor))];
  }
  return lineConfig({ datasets, x: [0, xMax, xTicks], y: [0, 2500, E_VOL_TICKS], pad });
}

function flowConfig(hists: number[][][], pad: Pad, showLabels: boolean) {
  const datasets = hists.map((h, i) => ({
    label: FLOW_LANES[i],
    data: h.map(([x, y]) => ({ x, y })),
    xAxisID: 'x',
    yAxisID: 'lane' + i,
    borderColor: HIST_LINE[i],
    backgroundColor: HIST_FILL[i],
    borderWidth: 1.2,
    fill: 'origin',
    pointRadius: 0,
    cubicInterpolationMode: 'monotone',
  }));
  const scales: any = {
    x: {
      type: 'linear', position: 'bottom', min: 0, max: 100, weight: 1,
      afterBuildTicks: (s: any) => { s.ticks = FLOW_TICK_VALUES.map((v) => ({ value: flowChannel(v) })); },
      afterFit: (s: any) => { s.height = pad.b; },
      grid: { display: true, drawOnChartArea: false, drawTicks: true, tickLength: 6, color: '#222', lineWidth: 1.6 },
      border: { display: true, color: '#505050', width: 1.5 },
      ticks: { autoSkip: false, maxRotation: 0, color: '#000', font: { family: FONT, size: 10 }, padding: 5, callback: (_v: any, i: number) => FLOW_TICK_LABELS[i] },
    },
    xm: {
      type: 'linear', position: 'bottom', min: 0, max: 100, weight: 0,
      afterBuildTicks: (s: any) => { s.ticks = FLOW_MINOR_VALUES.map((v) => ({ value: flowChannel(v) })); },
      afterFit: (s: any) => { s.height = 0; },
      grid: { display: true, drawOnChartArea: false, drawTicks: true, tickLength: 3, color: '#222', lineWidth: 1 },
      border: { display: false },
      ticks: { display: false, autoSkip: false },
    },
  };
  for (let i = 0; i < 4; i++) {
    scales['lane' + i] = {
      type: 'linear', position: 'left', stack: 'lanes', stackWeight: 1, weight: 4 - i, min: 0, max: 110,
      ticks: { display: false }, grid: { display: false }, border: { display: false },
      afterFit: (s: any) => { s.width = 0; },
    };
  }
  return {
    type: 'line',
    data: { datasets },
    options: {
      ...BASE_OPTIONS,
      layout: { padding: { left: pad.l, top: pad.t, right: pad.r, bottom: 0 } },
      scales,
      plugins: {
        legend: { display: false },
        tooltip: { enabled: false },
        frame: { show: true },
        laneLabels: showLabels ? { labels: FLOW_LANES, value: 42, inset: 18, fontSize: 30 } : {},
      },
    },
  };
}

// ================= React pieces =================
function ChartBox({ area, pad, make }: { area: Area; pad: Pad; make: () => any }) {
  const ref = useRef<HTMLCanvasElement | null>(null);
  const w = area.right - area.left + pad.l + pad.r;
  const h = area.bottom - area.top + pad.t + pad.b;
  useEffect(() => {
    if (!ref.current) return;
    const chart = new Chart(ref.current, make());
    return () => chart.destroy();
  }, []);
  return (
    <canvas
      ref={ref}
      width={w}
      height={h}
      style={{ position: 'absolute', left: area.left - pad.l, top: area.top - pad.t, width: w, height: h }}
    />
  );
}

function T({ x, base, size, align = 'left', stretch, color, children }: any) {
  const tx = align === 'center' ? '-50%' : align === 'right' ? '-100%' : '0';
  return (
    <div
      style={{
        position: 'absolute',
        left: x,
        top: base - 0.8465 * size,
        fontSize: size,
        lineHeight: 1,
        whiteSpace: 'nowrap',
        color: color || '#000',
        transform: `translateX(${tx})${stretch ? ` scaleX(${stretch})` : ''}`,
        transformOrigin: align === 'left' ? '0 50%' : '50% 50%',
      }}
    >
      {children}
    </div>
  );
}

function VT({ cx, cy, size, children }: any) {
  return (
    <div
      style={{
        position: 'absolute', left: cx, top: cy, fontSize: size, lineHeight: 1, whiteSpace: 'nowrap',
        transform: 'translate(-50%, -50%) rotate(-90deg)',
      }}
    >
      {children}
    </div>
  );
}

const PAD_A: Pad = { l: 60, t: 18, r: 22, b: 42 };
const PAD_D: Pad = { l: 75, t: 18, r: 22, b: 42 };
const PAD_FLOW: Pad = { l: 3, t: 3, r: 12, b: 32 };

export default function App() {
  const ST = 1.12;
  return (
    <div style={{ position: 'absolute', left: 0, top: 0, width: 2070, height: 1626, overflow: 'hidden', background: '#fff', fontFamily: FONT, color: '#000' }}>
      {/* panel letters */}
      <T x={194} base={35} size={38} align="center">A</T>
      <T x={615} base={35} size={38} align="center">B</T>
      <T x={923} base={35} size={38} align="center">C</T>
      <T x={1245} base={35} size={38} align="center">D</T>
      <T x={1665} base={35} size={38} align="center">E</T>

      {/* column titles */}
      <T x={367} base={121} size={32} align="center" stretch={ST}>Cell growth inhibition</T>
      <T x={748} base={121} size={32} align="center" stretch={ST}>PD-L1 expression</T>
      <T x={1072} base={121} size={32} align="center" stretch={ST}>MHC-I expression</T>
      <T x={1459} base={121} size={32} align="center" stretch={ST}><i>In vivo</i> growth curve</T>
      <T x={1700} base={121} size={32} align="left" stretch={ST}>Individual growth curve</T>

      {/* row labels */}
      <T x={11} base={358} size={35}>WT</T>
      <T x={3} base={722} size={35}><i>JAK1</i> KO</T>
      <T x={3} base={1078} size={35}><i>JAK2</i> KO</T>
      <T x={4} base={1435} size={35}><i>B2M</i> KO</T>

      {/* significance, panel A */}
      <T x={490} base={292} size={32}>***</T>
      <T x={490} base={307} size={32}>****</T>
      <T x={490} base={324} size={32}>****</T>
      <T x={503} base={644} size={30}>ns</T>
      <T x={503} base={671} size={30}>ns</T>
      <T x={503} base={698} size={30}>ns</T>
      <T x={503} base={964} size={30}>ns</T>
      <T x={505} base={1001} size={32}>*</T>
      <T x={505} base={1029} size={32}>****</T>
      <T x={507} base={1336} size={32}>*</T>
      <T x={507} base={1356} size={32}>*</T>
      <T x={507} base={1389} size={32}>****</T>

      {/* significance, panel D */}
      <T x={1613} base={455} size={32}>**</T>
      <T x={1620} base={758} size={30}>ns</T>
      <T x={1620} base={1039} size={30}>ns</T>
      <T x={1620} base={1375} size={30}>ns</T>

      {/* flow axis titles */}
      <VT cx={598} cy={867} size={32}>% of Max</VT>
      <VT cx={920} cy={867} size={32}>% of Max</VT>
      <T x={753} base={1623} size={30} align="center">PD-L1</T>
      <T x={1093} base={1623} size={31} align="center">MHC-I</T>

      {/* D1 annotations */}
      <VT cx={1257} cy={345} size={27}>tumor volume (mm3) +/-SEM</VT>
      <T x={1255} base={548} size={30} color="#ff1414">a-PD-1</T>
      <T x={1474} base={578} size={27} align="center">days</T>

      <svg width={2070} height={1626} style={{ position: 'absolute', left: 0, top: 0 }}>
        <g stroke="#000" strokeWidth={1.6} fill="none">
          <line x1={621} y1={1585} x2={621} y2={222} />
          <line x1={621} y1={1585} x2={872} y2={1585} />
          <line x1={942} y1={1585} x2={942} y2={222} />
          <line x1={942} y1={1585} x2={1200} y2={1585} />
        </g>
        <g fill="#000">
          <polygon points="621,211 615,226 627,226" />
          <polygon points="884,1585 869,1579 869,1591" />
          <polygon points="942,211 936,226 948,226" />
          <polygon points="1212,1585 1197,1579 1197,1591" />
        </g>
      </svg>

      {/* Panel A */}
      <ChartBox
        area={{ left: 221, top: 231, right: 484, bottom: 494 }}
        pad={{ ...PAD_A, t: 82 }}
        make={() =>
          growthConfig(
            [[WT_CONTROL, WT_CONTROL_ERR], [WT_IFNA, WT_IFNA_ERR], [WT_IFNB, WT_IFNB_ERR], [WT_IFNG, WT_IFNG_ERR]],
            { ...PAD_A, t: 82 },
            { show: true, x: 11, y: -75, w: 178, h: 148, firstRow: 19, rowH: 36, lineX: 10, lineLen: 41, textX: 58, fontSize: 30, lineWidth: 6, markerR: 6.5 },
          )
        }
      />
      <ChartBox area={{ left: 226, top: 604, right: 489, bottom: 866 }} pad={PAD_A}
        make={() => growthConfig([[JAK1_CONTROL, JAK1_CONTROL_ERR], [JAK1_IFNA, JAK1_IFNA_ERR], [JAK1_IFNB, JAK1_IFNB_ERR], [JAK1_IFNG, JAK1_IFNG_ERR]], PAD_A)} />
      <ChartBox area={{ left: 226, top: 951, right: 489, bottom: 1214 }} pad={PAD_A}
        make={() => growthConfig([[JAK2_CONTROL, JAK2_CONTROL_ERR], [JAK2_IFNA, JAK2_IFNA_ERR], [JAK2_IFNB, JAK2_IFNB_ERR], [JAK2_IFNG, JAK2_IFNG_ERR]], PAD_A)} />
      <ChartBox area={{ left: 226, top: 1308, right: 489, bottom: 1571 }} pad={PAD_A}
        make={() => growthConfig([[B2M_CONTROL, B2M_CONTROL_ERR], [B2M_IFNA, B2M_IFNA_ERR], [B2M_IFNB, B2M_IFNB_ERR], [B2M_IFNG, B2M_IFNG_ERR]], PAD_A)} />

      {/* Panels B and C */}
      <ChartBox area={{ left: 642, top: 238, right: 886, bottom: 482 }} pad={PAD_FLOW} make={() => flowConfig(PDL1_WT, PAD_FLOW, true)} />
      <ChartBox area={{ left: 642, top: 603, right: 886, bottom: 847 }} pad={PAD_FLOW} make={() => flowConfig(PDL1_JAK1, PAD_FLOW, false)} />
      <ChartBox area={{ left: 642, top: 951, right: 886, bottom: 1195 }} pad={PAD_FLOW} make={() => flowConfig(PDL1_JAK2, PAD_FLOW, false)} />
      <ChartBox area={{ left: 638, top: 1302, right: 883, bottom: 1546 }} pad={PAD_FLOW} make={() => flowConfig(PDL1_B2M, PAD_FLOW, false)} />
      <ChartBox area={{ left: 958, top: 239, right: 1203, bottom: 484 }} pad={PAD_FLOW} make={() => flowConfig(MHC_WT, PAD_FLOW, false)} />
      <ChartBox area={{ left: 959, top: 603, right: 1204, bottom: 847 }} pad={PAD_FLOW} make={() => flowConfig(MHC_JAK1, PAD_FLOW, false)} />
      <ChartBox area={{ left: 959, top: 945, right: 1204, bottom: 1188 }} pad={PAD_FLOW} make={() => flowConfig(MHC_JAK2, PAD_FLOW, false)} />
      <ChartBox area={{ left: 960, top: 1298, right: 1205, bottom: 1542 }} pad={PAD_FLOW} make={() => flowConfig(MHC_B2M, PAD_FLOW, false)} />

      {/* Panel D */}
      <ChartBox
        area={{ left: 1333, top: 230, right: 1596, bottom: 492 }}
        pad={{ ...PAD_D, t: 72, b: 62 }}
        make={() =>
          tumorConfig(WT_ISO, WT_ISO_ERR, WT_PD1, WT_PD1_ERR, { ...PAD_D, t: 72, b: 62 }, {
            boxLegend: { show: true, x: 19, y: -65, w: 184, h: 98, firstRow: 28, rowH: 46, lineX: 6, lineLen: 42, textX: 66, fontSize: 30, lineWidth: 6, markerR: 10 },
            doseMarks: { days: DOSE_DAYS, offset: 45, color: '#ff1414' },
          })
        }
      />
      <ChartBox area={{ left: 1337, top: 615, right: 1600, bottom: 879 }} pad={PAD_D} make={() => tumorConfig(JAK1_ISO, JAK1_ISO_ERR, JAK1_PD1, JAK1_PD1_ERR, PAD_D)} />
      <ChartBox area={{ left: 1343, top: 959, right: 1606, bottom: 1220 }} pad={PAD_D} make={() => tumorConfig(JAK2_ISO, JAK2_ISO_ERR, JAK2_PD1, JAK2_PD1_ERR, PAD_D)} />
      <ChartBox area={{ left: 1354, top: 1314, right: 1616, bottom: 1577 }} pad={PAD_D} make={() => tumorConfig(B2M_ISO, B2M_ISO_ERR, B2M_PD1, B2M_PD1_ERR, PAD_D)} />

      {/* Panel E */}
      <ChartBox area={{ left: 1766, top: 231, right: 2027, bottom: 494 }} pad={PAD_D} make={() => spaghettiConfig(E1_ISO, E_BLUE, E1_PD1, E_RED, 30, [0, 10, 20, 30], PAD_D)} />
      <ChartBox area={{ left: 1766, top: 619, right: 2027, bottom: 881 }} pad={PAD_D} make={() => spaghettiConfig(E2_ISO, E_BLUE, E2_PD1, E_RED, 40, [0, 10, 20, 30, 40], PAD_D)} />
      <ChartBox area={{ left: 1766, top: 951, right: 2027, bottom: 1215 }} pad={PAD_D} make={() => spaghettiConfig(E3_ISO, E_BLUE, E3_PD1, E_RED, 30, [0, 10, 20, 30], PAD_D, true)} />
      <ChartBox area={{ left: 1766, top: 1307, right: 2027, bottom: 1571 }} pad={PAD_D} make={() => spaghettiConfig(E4_PD1, E_RED, E4_ISO, E_BLUE, 20, [0, 5, 10, 15, 20], PAD_D, true)} />
    </div>
  );
}
